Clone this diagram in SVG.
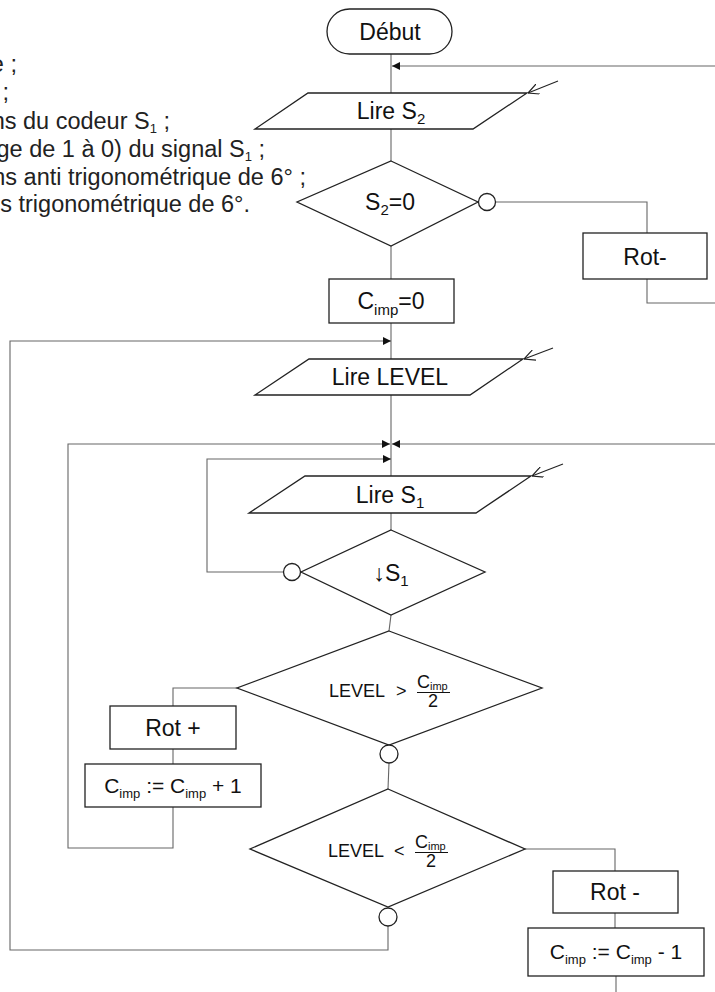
<svg xmlns="http://www.w3.org/2000/svg" width="715" height="992" viewBox="0 0 715 992">
<style>
.s{fill:#fff;stroke:#222;stroke-width:1.3}
.c{fill:none;stroke:#666;stroke-width:1.1}
.t{font-family:"Liberation Sans",Arial,sans-serif;fill:#111;font-size:23px;text-anchor:middle}
.l{font-family:"Liberation Sans",Arial,sans-serif;fill:#222;font-size:23.5px;text-anchor:end}
.m{font-family:"Liberation Sans",Arial,sans-serif;fill:#111;font-size:21px;text-anchor:middle}
.f{font-family:"Liberation Sans",Arial,sans-serif;fill:#111;font-size:18px}
.ci{fill:#fff;stroke:#222;stroke-width:1.3}
</style>
<defs>
<marker id="ah" viewBox="0 0 8 8" refX="8" refY="4" markerWidth="8" markerHeight="8" markerUnits="userSpaceOnUse" orient="auto"><path d="M0,0 L8,4 L0,8 z" fill="#111"/></marker>
<marker id="oa" viewBox="0 0 10 10" refX="10" refY="5" markerWidth="11" markerHeight="11" markerUnits="userSpaceOnUse" orient="auto"><path d="M0,0 L10,5 L0,10" fill="none" stroke="#222" stroke-width="1.1"/></marker>
</defs>
<rect width="715" height="992" fill="#fff"/>

<g id="legend">
<text class="l" x="17" y="72">e ;</text>
<text class="l" x="9" y="100">;</text>
<text class="l" x="170" y="129">ns du codeur S<tspan font-size="13" dy="4">1</tspan><tspan dy="-4"> ;</tspan></text>
<text class="l" x="265" y="157">ge de 1 à 0) du signal S<tspan font-size="13" dy="4">1</tspan><tspan dy="-4"> ;</tspan></text>
<text class="l" x="306" y="185">ns anti trigonométrique de 6° ;</text>
<text class="l" x="250" y="212">s trigonométrique de 6°.</text>
</g>

<g id="connectors">
<line class="c" x1="391" y1="54" x2="391" y2="93"/>
<line class="c" x1="715" y1="66" x2="392" y2="66" marker-end="url(#ah)"/>
<line class="c" x1="391" y1="129" x2="391" y2="161"/>
<line class="c" x1="391" y1="246" x2="391" y2="279"/>
<polyline class="c" points="496,202 647,202 647,233"/>
<polyline class="c" points="647,279 647,303 715,303"/>
<line class="c" x1="391" y1="323" x2="391" y2="359"/>
<polyline class="c" points="388,926 388,950 10,950 10,341 391,341" marker-end="url(#ah)"/>
<line class="c" x1="391" y1="395" x2="391" y2="476"/>
<polyline class="c" points="173,807 173,848 68,848 68,444 390,444" marker-end="url(#ah)"/>
<line class="c" x1="715" y1="444" x2="392" y2="444" marker-end="url(#ah)"/>
<polyline class="c" points="284,572 207,572 207,459 391,459" marker-end="url(#ah)"/>
<line class="c" x1="391" y1="513" x2="391" y2="530"/>
<line class="c" x1="391" y1="615" x2="389" y2="631"/>
<polyline class="c" points="237,688 173,688 173,706"/>
<line class="c" x1="173" y1="749" x2="173" y2="764"/>
<line class="c" x1="389" y1="763" x2="388" y2="789"/>
<polyline class="c" points="525,849 615,849 615,871"/>
<line class="c" x1="615" y1="913" x2="615" y2="928"/>
<line class="c" x1="616" y1="976" x2="616" y2="992"/>
<line x1="558" y1="81" x2="528" y2="93" stroke="#222" stroke-width="1.1" marker-end="url(#oa)"/>
<line x1="553" y1="348" x2="524" y2="359" stroke="#222" stroke-width="1.1" marker-end="url(#oa)"/>
<line x1="563" y1="464" x2="532" y2="476" stroke="#222" stroke-width="1.1" marker-end="url(#oa)"/>
</g>

<g id="debut">
<rect class="s" x="327" y="9" width="125" height="45" rx="22.5"/>
<text class="t" x="390" y="40">Début</text>
</g>

<g id="lireS2">
<polygon class="s" points="308,93 527,93 473,129 255,129"/>
<text class="t" x="391" y="119">Lire S<tspan font-size="15" dy="5">2</tspan></text>
</g>

<g id="testS2">
<polygon class="s" points="391,161 478,202 391,246 297,202"/>
<text class="t" x="390" y="210">S<tspan font-size="15" dy="5">2</tspan><tspan dy="-5">=0</tspan></text>
<circle class="ci" cx="487" cy="202" r="8.5"/>
</g>

<g id="rotMoins1">
<rect class="s" x="583" y="233" width="124" height="46"/>
<text class="t" x="645" y="265">Rot-</text>
</g>

<g id="cimp0">
<rect class="s" x="329" y="279" width="125" height="44"/>
<text class="t" x="391" y="309">C<tspan font-size="15" dy="6">imp</tspan><tspan dy="-6">=0</tspan></text>
</g>

<g id="lireLevel">
<polygon class="s" points="309,359 523,359 470,395 255,395"/>
<text class="t" x="390" y="385">Lire LEVEL</text>
</g>

<g id="lireS1">
<polygon class="s" points="305,476 531,476 476,513 249,513"/>
<text class="t" x="390" y="503">Lire S<tspan font-size="15" dy="5">1</tspan></text>
</g>

<g id="frontS1">
<polygon class="s" points="391,530 485,572 391,615 301,572"/>
<text class="t" x="391" y="581">↓S<tspan font-size="15" dy="5">1</tspan></text>
<circle class="ci" cx="292" cy="572" r="8.5"/>
</g>

<g id="testSup">
<polygon class="s" points="389,631 542,688 389,745 237,688"/>
<text class="f" x="329" y="697">LEVEL<tspan x="396">&gt;</tspan></text>
<text class="f" x="417" y="688" font-size="17">C<tspan font-size="11" dy="2">imp</tspan></text>
<line x1="417" y1="692.5" x2="450" y2="692.5" stroke="#111" stroke-width="1"/>
<text class="f" x="433" y="707" font-size="17" text-anchor="middle">2</text>
<circle class="ci" cx="389" cy="754" r="9"/>
</g>

<g id="rotPlus">
<rect class="s" x="110" y="706" width="126" height="43"/>
<text class="t" x="173" y="736">Rot +</text>
</g>

<g id="incr">
<rect class="s" x="85" y="764" width="176" height="43"/>
<text class="m" x="173" y="793">C<tspan font-size="13" dy="5">imp</tspan><tspan dy="-5"> := C</tspan><tspan font-size="13" dy="5">imp</tspan><tspan dy="-5"> + 1</tspan></text>
</g>

<g id="testInf">
<polygon class="s" points="388,789 525,849 388,907 250,849"/>
<text class="f" x="328" y="857">LEVEL<tspan x="394">&lt;</tspan></text>
<text class="f" x="415" y="848" font-size="17">C<tspan font-size="11" dy="2">imp</tspan></text>
<line x1="415" y1="852.5" x2="448" y2="852.5" stroke="#111" stroke-width="1"/>
<text class="f" x="431" y="867" font-size="17" text-anchor="middle">2</text>
<circle class="ci" cx="388" cy="917" r="9"/>
</g>

<g id="rotMoins2">
<rect class="s" x="553" y="871" width="125" height="42"/>
<text class="t" x="615" y="900">Rot -</text>
</g>

<g id="decr">
<rect class="s" x="528" y="928" width="176" height="48"/>
<text class="m" x="616" y="959">C<tspan font-size="13" dy="5">imp</tspan><tspan dy="-5"> := C</tspan><tspan font-size="13" dy="5">imp</tspan><tspan dy="-5"> - 1</tspan></text>
</g>
</svg>
